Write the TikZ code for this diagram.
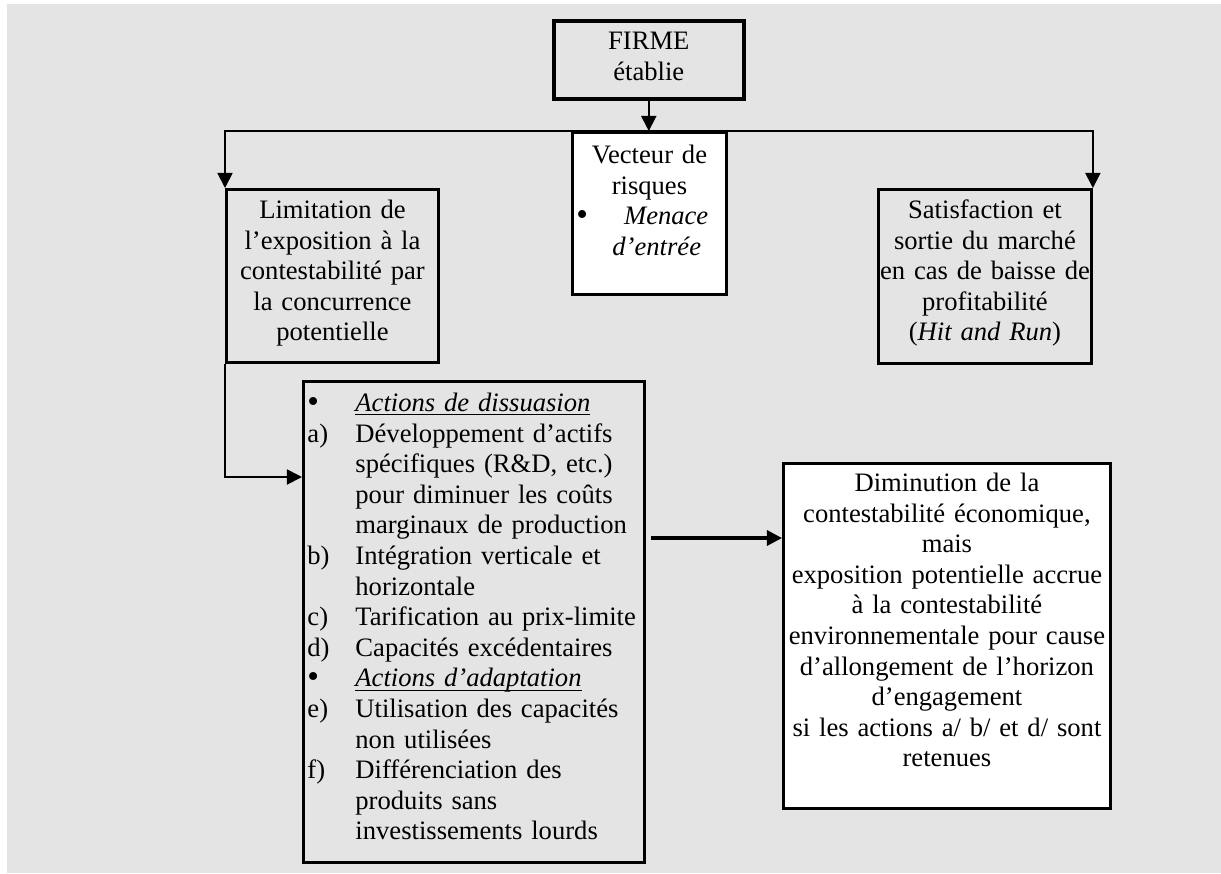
\documentclass[tikz,border=0pt]{standalone}
\usepackage{fontspec}
\setmainfont{Liberation Serif}
\usetikzlibrary{arrows.meta}

\newdimen\unitpx \unitpx=0.451pt
\newcommand\actlab[1]{\makebox[48\unitpx][l]{#1}}
\newcommand\ulit[1]{\underline{\smash{\textit{#1}}}}
\newcommand\bigbul{\raisebox{-0.5pt}{\fontsize{15}{15}\selectfont\textbullet}}
\definecolor{bgray}{RGB}{228,228,228}

\begin{document}
\begin{tikzpicture}[x=\unitpx,y=-\unitpx,>={Triangle[length=6.8pt,width=6.8pt]},
  box/.style={draw,line width=1.3pt,fill=bgray,inner sep=0pt,anchor=north west,
    align=center,font=\fontsize{12}{13.8}\selectfont},
  wbox/.style={box,fill=white},
  conn/.style={->,line width=0.8pt}]
\useasboundingbox (0,0) rectangle (1221,873);
\fill[bgray] (7,4) rectangle (1221,873);

\node[box,line width=1.6pt,text width=190*\unitpx,text height=29*\unitpx,text depth=49*\unitpx] (firme) at (552,19) {FIRME\\établie};
\node[wbox,inner xsep=4*\unitpx,text width=146*\unitpx,text height=31*\unitpx,text depth=131*\unitpx] (vect) at (571,131)
  {Vecteur de\\risques\\
   \makebox[\linewidth][l]{\bigbul\hspace{36\unitpx}\textit{Menace}}\\
   \makebox[\linewidth][l]{\hspace{36\unitpx}\textit{d'entrée}}};
\node[box,text width=212*\unitpx,text height=29*\unitpx,text depth=144*\unitpx] (lim) at (225,188)
  {Limitation de\\l'exposition à la\\contestabilité par\\la concurrence\\potentielle};
\node[box,text width=213*\unitpx,text height=29*\unitpx,text depth=145*\unitpx] (sat) at (877,188)
  {Satisfaction et\\sortie du marché\\en cas de baisse de\\profitabilité\\(\textit{Hit and Run})};
\node[box,align=left,inner xsep=4*\unitpx,text width=333*\unitpx,text height=30*\unitpx,text depth=451*\unitpx] (act) at (302,380)
  {\actlab{\bigbul}\ulit{Actions de dissuasion}\\
   \actlab{a)}Développement d'actifs\\
   \actlab{}spécifiques (R\&D, etc.)\\
   \actlab{}pour diminuer les coûts\\
   \actlab{}marginaux de production\\
   \actlab{b)}Intégration verticale et\\
   \actlab{}horizontale\\
   \actlab{c)}Tarification au prix-limite\\
   \actlab{d)}Capacités excédentaires\\
   \actlab{\bigbul}\ulit{Actions d'adaptation}\\
   \actlab{e)}Utilisation des capacités\\
   \actlab{}non utilisées\\
   \actlab{f)}Différenciation des\\
   \actlab{}produits sans\\
   \actlab{}investissements lourds};
\node[wbox,text width=327*\unitpx,text height=28*\unitpx,text depth=317*\unitpx] (dim) at (782,462)
  {Diminution de la\\contestabilité économique,\\mais\\exposition potentielle accrue\\à la contestabilité\\environnementale pour cause\\d'allongement de l'horizon\\d'engagement\\si les actions a/ b/ et d/ sont\\retenues};

\draw[conn] (firme.south) -- (firme.south |- vect.north);
\draw[conn] (vect.north) -| (lim.north west);
\draw[conn] (vect.north) -| (sat.north east);
\draw[conn] (lim.south west) |- ([yshift=-97*\unitpx]act.north west);
\coordinate (dimin) at ([yshift=-76*\unitpx]dim.north west);
\draw[conn,line width=1.4pt] ([xshift=5*\unitpx]act.east |- dimin) -- (dimin);
\end{tikzpicture}
\end{document}
